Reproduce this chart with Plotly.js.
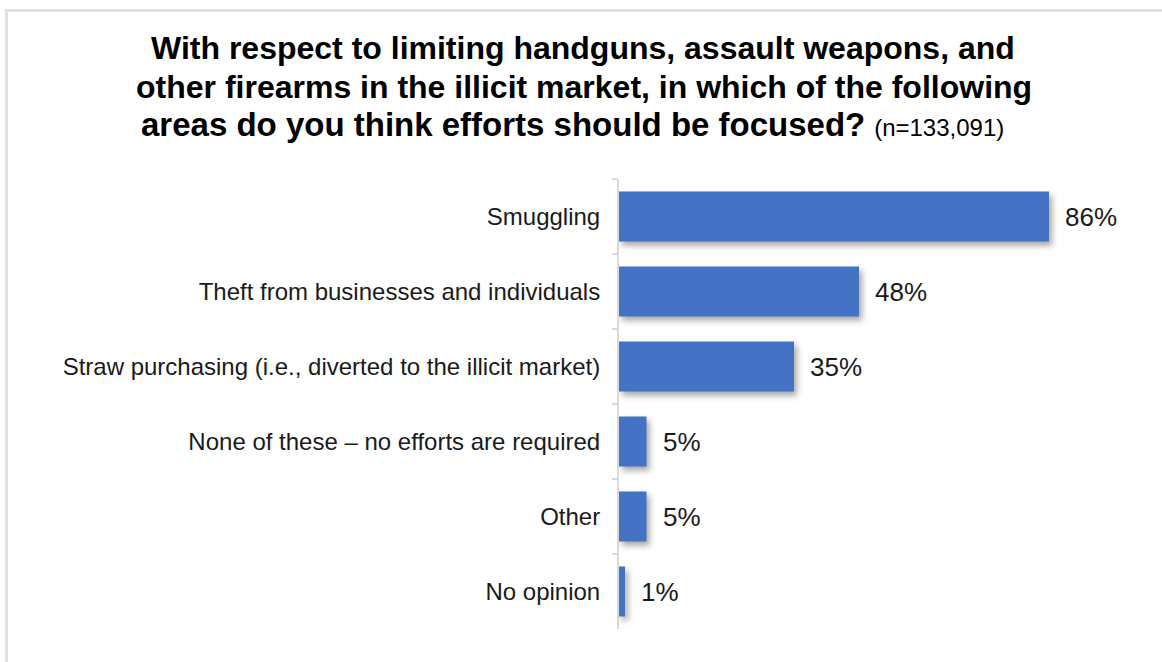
<!DOCTYPE html>
<html>
<head>
<meta charset="utf-8">
<script src="https://cdn.plot.ly/plotly-3.0.1.min.js"></script>
<style>
  html, body { margin: 0; padding: 0; background: #fff; }
  #chart { width: 1162px; height: 662px; position: absolute; left: 0; top: 0; }
  #frame { position: absolute; left: 5px; top: 9px; width: 1157px; height: 653px;
           border-top: 3px solid #e0e0e0; border-left: 3px solid #e0e0e0; pointer-events: none; }
  #chart .bars path { filter: drop-shadow(3px 4px 3px rgba(0,0,0,0.35)); }
</style>
</head>
<body>
<div id="chart"></div>
<div id="frame"></div>
<script>
const categories = [
  "Smuggling",
  "Theft from businesses and individuals",
  "Straw purchasing (i.e., diverted to the illicit market)",
  "None of these \u2013 no efforts are required",
  "Other",
  "No opinion"
];
// bar lengths
const values = [86, 48, 35, 5.5, 5.5, 1.2];
const valueLabels = ["86%", "48%", "35%", "5%", "5%", "1%"];
const titleLines = [
  "<b>With respect to limiting handguns, assault weapons, and</b>",
  "<b>other firearms in the illicit market, in which of the following</b>",
  "<b><span style='font-size:33px'>areas do you think efforts should be focused?</span></b> <span style='font-size:24px'>(n=133,091)</span>"
];

const FONT = "Liberation Sans, Arial, sans-serif";

// plot area geometry (pixels)
const PL = 619, PW = 500, PT = 179, PH = 450;
const px2x = p => (p - PL) / PW;
const py2y = p => 1 + (PT - p) / PH;

const trace = {
  type: "bar",
  orientation: "h",
  x: values,
  y: categories,
  marker: { color: "#4472C4" },
  hoverinfo: "skip"
};

const annotations = values.map((v, i) => ({
  x: v, y: categories[i], xref: "x", yref: "y",
  text: valueLabels[i], showarrow: false,
  xanchor: "left", yanchor: "middle", xshift: 14,
  font: { family: FONT, size: 26, color: "#1a1a1a" }
}));

const titleCentersX = [583, 584, 572.5];
const titleCentersY = [48, 86.5, 124.5];
titleLines.forEach((t, i) => {
  annotations.push({
    xref: "paper", yref: "paper",
    x: px2x(titleCentersX[i]), y: py2y(titleCentersY[i]),
    xanchor: "center", yanchor: "middle",
    text: t, showarrow: false,
    font: { family: FONT, size: 32, color: "#000" }
  });
});

const layout = {
  width: 1162, height: 662,
  margin: { l: PL, r: 1162 - PL - PW, t: PT, b: 662 - PT - PH },
  paper_bgcolor: "#ffffff",
  plot_bgcolor: "#ffffff",
  showlegend: false,
  bargap: 0.333,
  xaxis: {
    range: [0, 100],
    visible: false,
    fixedrange: true
  },
  yaxis: {
    autorange: "reversed",
    showline: true, linecolor: "#d9d9d9", linewidth: 2,
    ticks: "outside", tickson: "boundaries", ticklen: 5, tickcolor: "#d9d9d9", tickwidth: 2,
    ticklabelstandoff: 12,
    showgrid: false, zeroline: false,
    tickfont: { family: FONT, size: 24, color: "#1a1a1a" }
  },
  annotations: annotations
};

Plotly.newPlot("chart", [trace], layout, { staticPlot: true, displayModeBar: false });
</script>
</body>
</html>
